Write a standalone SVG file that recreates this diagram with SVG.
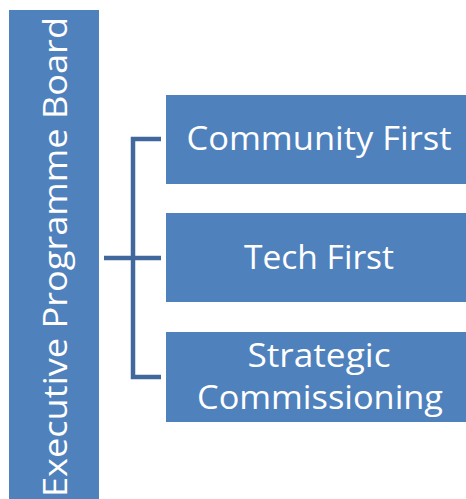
<svg xmlns="http://www.w3.org/2000/svg" width="466" height="499" viewBox="0 0 466 499">
<style>
.box{fill:#4F81BD;}
.lbl{font-family:"Open Sans","Liberation Sans",sans-serif;font-size:32px;fill:#FFFFFF;text-anchor:middle;}
.conn{stroke:#41689C;stroke-width:4.5;fill:none;}
</style>
<g id="connectors">
<path class="conn" d="M161,139 H133 V377 H161"/>
<path class="conn" d="M104,258 H161"/>
</g>
<g id="executive-programme-board">
<rect class="box" x="9" y="10" width="90" height="489"/>
<text class="lbl" transform="translate(67,257) rotate(-90)" textLength="480" lengthAdjust="spacingAndGlyphs">Executive Programme Board</text>
</g>
<g id="community-first">
<rect class="box" x="166" y="95" width="300" height="89"/>
<text class="lbl" x="319" y="150" textLength="265" lengthAdjust="spacingAndGlyphs">Community First</text>
</g>
<g id="tech-first">
<rect class="box" x="166" y="213" width="300" height="89"/>
<text class="lbl" x="319" y="269" textLength="150" lengthAdjust="spacingAndGlyphs">Tech First</text>
</g>
<g id="strategic-commissioning">
<rect class="box" x="166" y="332" width="300" height="90"/>
<text class="lbl" x="319" y="367" textLength="143" lengthAdjust="spacingAndGlyphs">Strategic</text>
<text class="lbl" x="320" y="409" textLength="246" lengthAdjust="spacingAndGlyphs">Commissioning</text>
</g>
</svg>
